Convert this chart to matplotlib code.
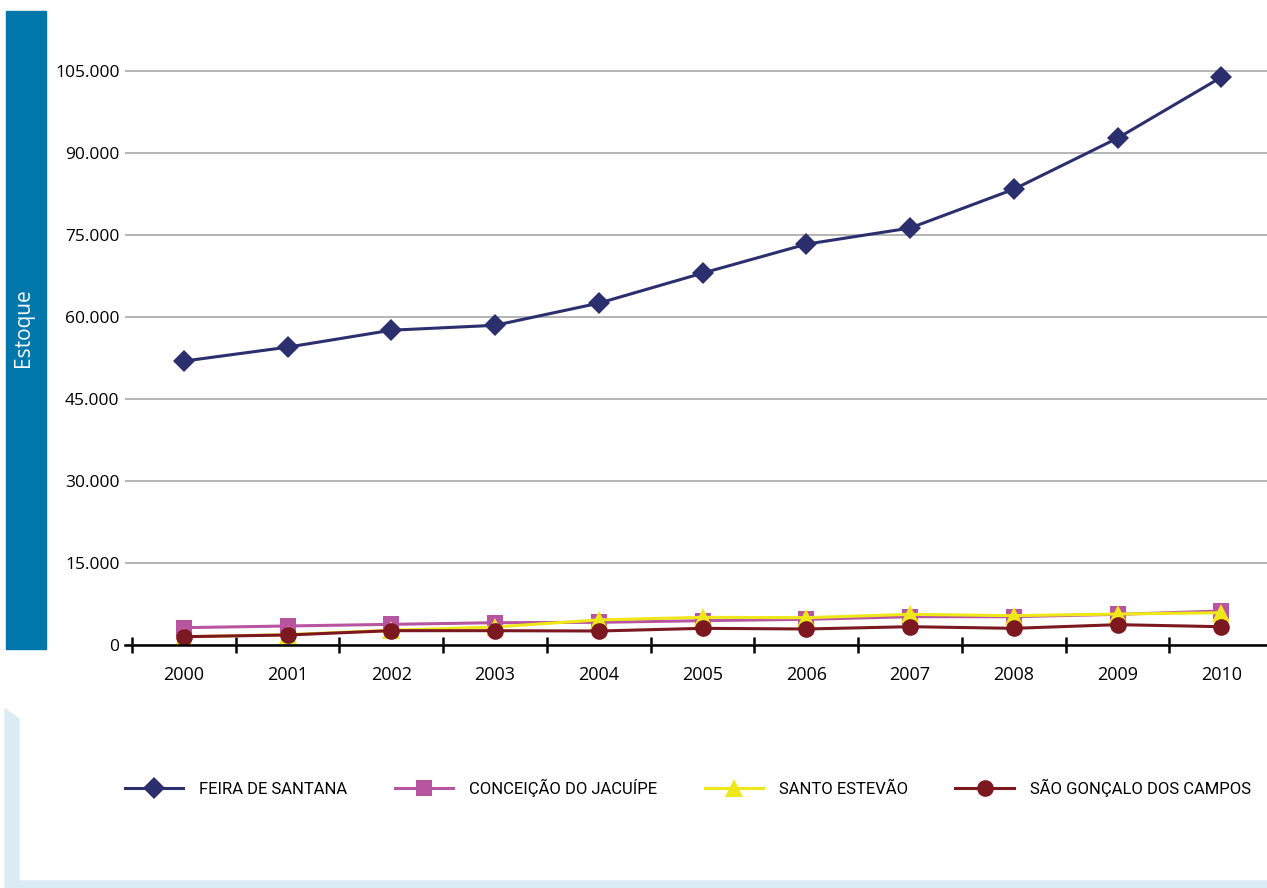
import matplotlib.pyplot as plt
import numpy as np
from matplotlib.lines import Line2D
from matplotlib.patches import Polygon, Rectangle

years = ["2000", "2001", "2002", "2003", "2004", "2005",
         "2006", "2007", "2008", "2009", "2010"]

feira = [51950, 54500, 57600, 58500, 62550, 68050,
         73350, 76300, 83400, 92750, 103900]
conceicao = [3170, 3480, 3780, 4080, 4150, 4450,
             4700, 5180, 5180, 5610, 6220]
santo = [1500, 1900, 2700, 3290, 4600, 5060,
         5000, 5610, 5370, 5670, 5900]
sao = [1520, 1830, 2620, 2620, 2560, 3050,
       2930, 3350, 3050, 3720, 3350]

series = [
    ("FEIRA DE SANTANA", feira, "#2B2F6E", "D", 11),
    ("CONCEIÇÃO DO JACUÍPE", conceicao, "#B855A0", "s", 12),
    ("SANTO ESTEVÃO", santo, "#EEE81A", "^", 13.5),
    ("SÃO GONÇALO DOS CAMPOS", sao, "#7B1820", "o", 12),
]

W, H = 1267, 888
plt.rcParams["font.family"] = ["Open Sans", "DejaVu Sans"]

fig = plt.figure(figsize=(W / 100, H / 100), dpi=100)

# page decorations
fig.patches.append(Rectangle((6 / W, 1 - 649 / H), 40 / W, 638 / H,
                             transform=fig.transFigure, color="#0077AA", zorder=0))
frame = [(5, 709), (19, 719), (19, 881), (1267, 881), (1267, 888), (5, 888)]
fig.patches.append(Polygon([(x / W, 1 - y / H) for x, y in frame],
                           transform=fig.transFigure, color="#DAEBF3", zorder=0))
fig.text(23 / W, 1 - 328 / H, "Estoque", rotation=90, color="white",
         fontsize=15, ha="center", va="center")

ax = fig.add_axes([125 / W, (H - 645) / H, 1 - 125 / W, 623 / H])
x = np.arange(len(years))
handles = []
for name, vals, color, marker, ms in series:
    ax.plot(x, vals, color=color, lw=2.2, marker=marker, markersize=ms,
            markeredgewidth=0, clip_on=False)
    handles.append(Line2D([], [], color=color, lw=2.2, marker=marker,
                          markersize=ms, markeredgewidth=0, label=name))

ax.set_xlim(-0.567, 10.44)
ax.set_ylim(0, 114000)

yt = np.arange(0, 105001, 15000)
ax.set_yticks(yt)
ax.set_yticklabels([f"{v:,}".replace(",", ".") for v in yt], fontsize=12.5)
ax.tick_params(axis="y", length=0, pad=4)
ax.yaxis.grid(True, color="#A8A8A8", lw=1.2)
ax.set_axisbelow(True)

ax.set_xticks(np.arange(-0.5, 10.5, 1))
ax.set_xticklabels([])
ax.set_xticks(x, minor=True)
ax.set_xticklabels(years, minor=True, fontsize=13)
ax.tick_params(axis="x", which="major", direction="inout", length=12, width=1.8)
ax.tick_params(axis="x", which="minor", length=0, pad=15)

for side in ["left", "right", "top"]:
    ax.spines[side].set_visible(False)
ax.spines["bottom"].set_linewidth(1.8)

fig.legend(handles=handles, ncol=4, loc="center left",
           bbox_to_anchor=(125 / W, 1 - 788 / H), frameon=False,
           borderpad=0, borderaxespad=0, handlelength=3.5,
           handletextpad=0.95, columnspacing=2.85,
           prop={"family": ["Roboto", "Open Sans"], "size": 12})

fig.savefig("out.png", dpi=100)
